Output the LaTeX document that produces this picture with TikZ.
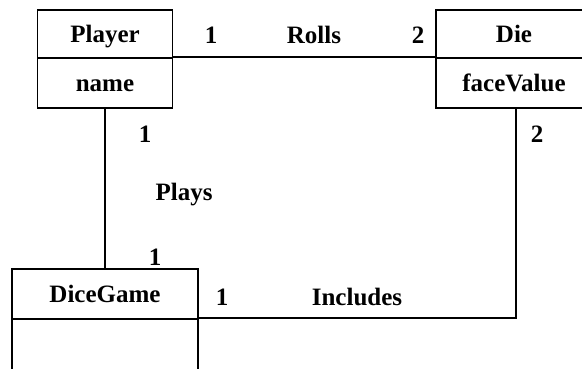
\documentclass[tikz,border=0pt]{standalone}
\usepackage{fontspec}
\setmainfont{Liberation Serif}
\begin{document}
\begin{tikzpicture}[x=1pt,y=-1pt,
  every node/.style={font=\fontsize{25}{29}\selectfont\bfseries},
  cls/.style={draw, line width=1.6pt, rectangle, inner sep=0pt, text height=16pt, text depth=0pt},
  lbl/.style={anchor=base, inner sep=0pt},
  conn/.style={line width=1.6pt}]
\useasboundingbox (0,0) rectangle (582,368);
\clip (0,0) rectangle (582,368);
\fill[white] (0,0) rectangle (582,368);
% classes
\node[cls, minimum width=135pt, minimum height=48pt] (ph) at (105,34) {Player};
\node[cls, minimum width=135pt, minimum height=50pt] (pa) at (105,83) {name};
\node[cls, minimum width=156pt, minimum height=48pt] (dh) at (514,34) {Die};
\node[cls, minimum width=156pt, minimum height=50pt] (da) at (514,83) {faceValue};
\node[cls, minimum width=186pt, minimum height=50pt] (gh) at (105,294) {DiceGame};
\node[cls, minimum width=186pt, minimum height=60pt] (ga) at (105,349) {};
% connectors
\draw[conn] (pa.north east) -- (da.north west);
\draw[conn] (pa.south) -- (pa.south |- gh.north);
\draw[conn] ([xshift=2pt]da.south) |- (ga.north east);
% labels
\node[lbl] (r1) at (211,43) {1};
\node[lbl] (rl) at (314,43) {Rolls};
\node[lbl] (r2) at (418,43) {2};
\node[lbl] (p1) at (145,142) {1};
\node[lbl] (pl) at (184,200) {Plays};
\node[lbl] (p2) at (155,265) {1};
\node[lbl] (i2) at (537,142) {2};
\node[lbl] (i1) at (222,305) {1};
\node[lbl] (il) at (357,305) {Includes};
\end{tikzpicture}
\end{document}
